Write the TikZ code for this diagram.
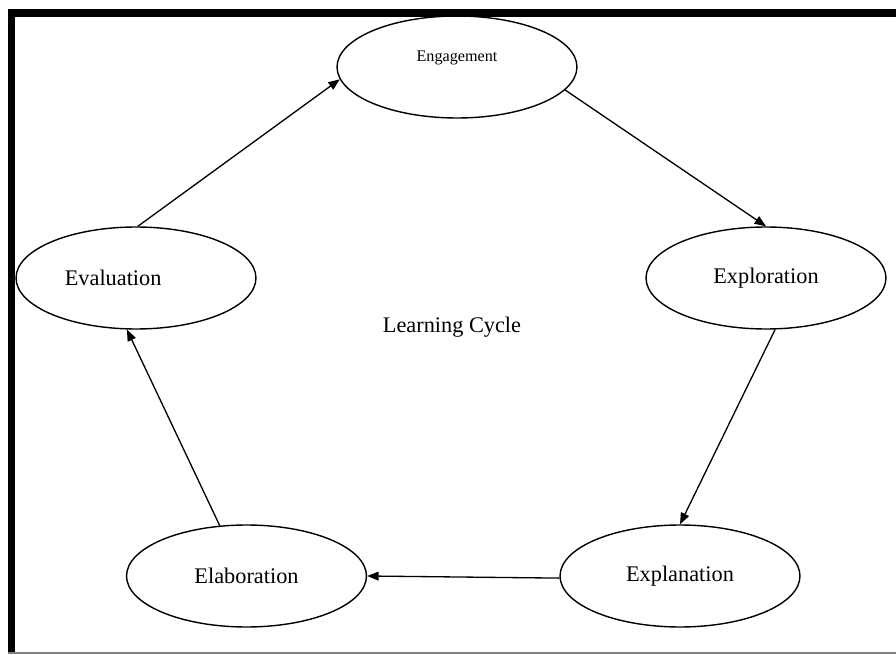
\documentclass[tikz,border=0pt]{standalone}
\usepackage{fontspec}
\setmainfont{Liberation Serif}
\usetikzlibrary{arrows.meta,shapes.geometric}

\begin{document}
\begin{tikzpicture}[x=0.02cm,y=-0.02cm,>={Triangle[length=6.5pt,width=5pt]},
	every node/.style={font=\fontsize{12.7}{15}\selectfont},
	phase/.style={ellipse,draw,line width=0.8pt,minimum width=4.8cm,minimum height=2.04cm,inner sep=0pt}]
		\useasboundingbox (0,0) rectangle (896,655);
		
		% frame
		\fill (7.5,9.5) rectangle (896,17.3);
		\fill (7.5,9.5) rectangle (15,653.5);
		\draw[gray,line width=0.6pt](7.5,653)--(896,653);
		
		\node[phase,label={[font=\fontsize{9.2}{11}\selectfont,yshift=5.1pt]center:Engagement}] (engage) at (457,67) {};
		\node[phase] (explore) at (766,278) {Exploration};
		\node[phase] (explain) at (680,576) {Explanation};
		\node[phase] (elaborate) at (246.5,576) {Elaboration};
		\node[phase,label={[xshift=-13pt]center:Evaluation}] (evaluate) at (136,278) {};
		
		\node (cycle) at (452,327) {Learning Cycle};
		
		\draw[->,line width=0.75pt](evaluate.88)--(engage.186);
		\draw[->,line width=0.75pt](engage.-12)--(explore.north);
		\draw[->,line width=0.75pt](explore.-80)--(explain.north);
		\draw[->,line width=0.75pt](explain.181)--(elaborate.east);
		\draw[->,line width=0.75pt](elaborate.118)--(evaluate.260);
	\end{tikzpicture}
\end{document}
